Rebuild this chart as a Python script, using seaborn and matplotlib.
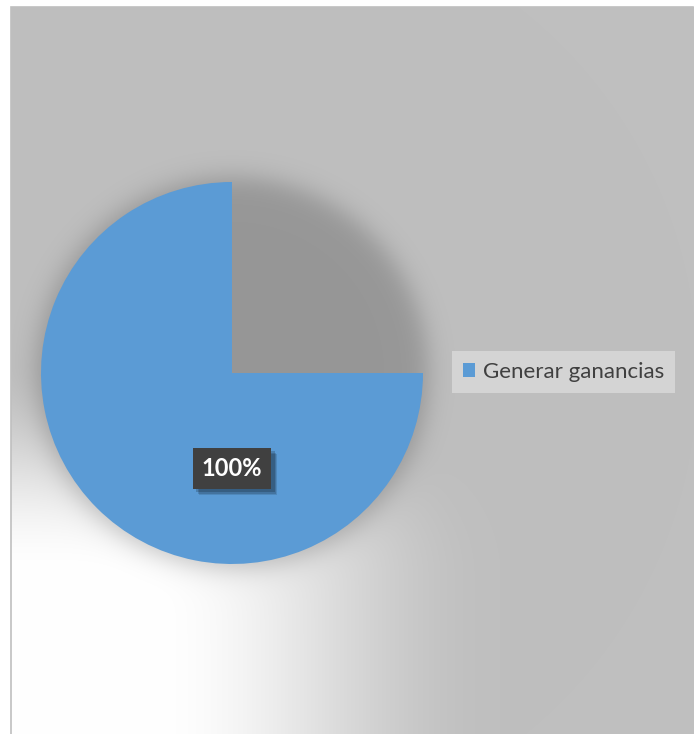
import numpy as np
import matplotlib
matplotlib.use("Agg")
import matplotlib.pyplot as plt
import matplotlib.patheffects as pe
from matplotlib.patches import Patch, Rectangle
import seaborn as sns

# Data
categories = ["Generar ganancias"]
shares = [100.0]

sns.set_theme(style="white")
plt.rcParams["font.family"] = ["Lato", "DejaVu Sans"]

BLUE = "#5b9bd5"
W, H = 698, 734
fig = plt.figure(figsize=(W / 100, H / 100), dpi=100)
ax = fig.add_axes([0, 0, 1, 1])
ax.set_xlim(0, W)
ax.set_ylim(0, H)
ax.set_aspect("equal")
ax.axis("off")

# Chart area: grey fill with a soft white glow from the lower-left corner,
# plus the blurred drop shadow cast by the pie.
area_l, area_r, area_t = 11, 693, 7
cx, cy_px, R = 232, 373, 191
yy, xx = np.mgrid[0:H, 0:W].astype(float)
tx = np.clip((xx - 150) / 350, 0, None)
ty = np.clip((575 - yy) / 215, 0, None)
t = np.clip(np.sqrt(tx ** 2 + ty ** 2), 0, 1)
t = t * t * (3 - 2 * t)
val = 255 - 64 * t
d = np.sqrt((xx - cx) ** 2 + (yy - cy_px) ** 2)
shadow = 1 / (1 + np.exp((d - (R + 5)) / 7.5))
val = val * (1 - 0.21 * shadow)
inside = (xx >= area_l) & (xx <= area_r) & (yy >= area_t)
val = np.where(inside, val, 255)
img = np.dstack([val, val, val]) / 255.0
ax.imshow(img, extent=(0, W, 0, H), origin="upper", interpolation="bilinear", zorder=0)
ax.add_patch(Rectangle((area_l, -1), area_r - area_l, H - area_t + 1,
                       fill=False, edgecolor="#bfbfbf", lw=1.2, zorder=1))

# Pie
cy = H - cy_px
wedges, _, autotexts = ax.pie(
    shares, colors=[BLUE], startangle=90, counterclock=False,
    center=(cx, cy), radius=R, autopct="%1.0f%%", pctdistance=0.5,
    wedgeprops=dict(linewidth=0), frame=True,
)
# the top-right quadrant of the slice is left open
wedges[0].set_theta2(0)
ax.set_xlim(0, W)
ax.set_ylim(0, H)
ax.axis("off")

# soft drop shadow under the value label
soft_shadow = [
    pe.SimplePatchShadow(offset=(o, -o), shadow_rgbFace="black", alpha=a)
    for o, a in [(4.5, 0.12), (3.5, 0.15), (2.5, 0.18)]
]
for at in autotexts:
    at.set_color("white")
    at.set_fontsize(17)
    at.set_fontweight("bold")
    at.set_bbox(dict(boxstyle="square,pad=0.38", facecolor="#404040", edgecolor="none"))
    at.get_bbox_patch().set_path_effects(soft_shadow + [pe.Normal()])

# Legend
handles = [Patch(facecolor=BLUE, edgecolor="none", label=c) for c in categories]
leg = ax.legend(
    handles=handles, loc="center left", bbox_to_anchor=(452, H - 372),
    bbox_transform=ax.transData, fontsize=16, frameon=True, fancybox=False,
    handlelength=0.55, handleheight=0.55, handletextpad=0.35, borderpad=0.5,
    borderaxespad=0,
)
frame = leg.get_frame()
frame.set_facecolor("#d4d4d4")
frame.set_edgecolor("none")
frame.set_alpha(1)
for txt in leg.get_texts():
    txt.set_color("#404040")

fig.savefig("out.png", dpi=100)
